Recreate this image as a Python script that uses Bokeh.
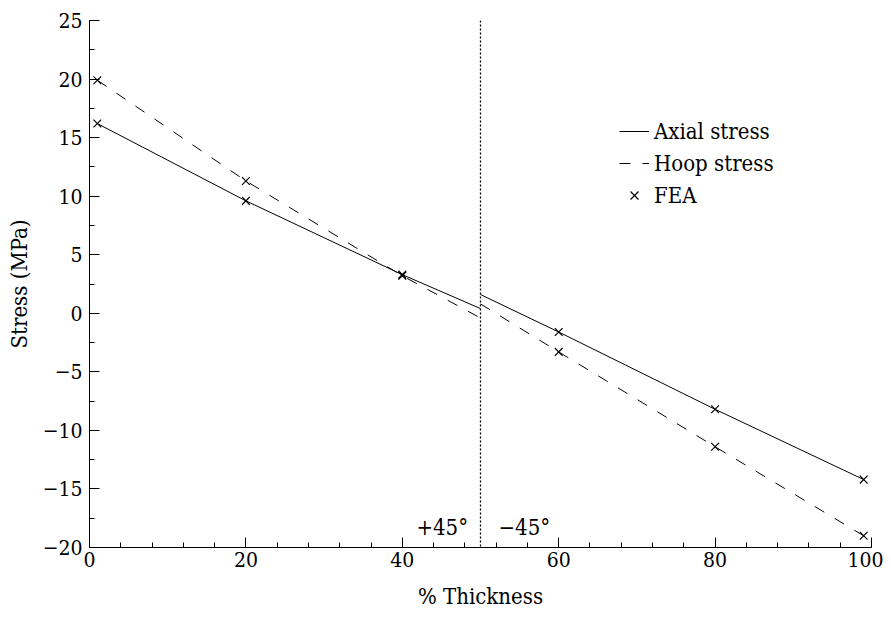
from bokeh.plotting import figure
from bokeh.models import FixedTicker, Range1d, Legend, LegendItem, Span, CustomJSTickFormatter
from bokeh.core.properties import value
from bokeh.embed import file_html
from bokeh.resources import INLINE

# Data
axial_left_x = [1, 20, 40, 50]
axial_left_y = [16.2, 9.6, 3.3, 0.4]
axial_right_x = [50, 60, 80, 99]
axial_right_y = [1.6, -1.6, -8.2, -14.2]
hoop_left_x = [1, 20, 40, 50]
hoop_left_y = [19.9, 11.3, 3.2, -0.4]
hoop_right_x = [50, 60, 80, 99]
hoop_right_y = [0.8, -3.3, -11.4, -19.0]
fea_x = [1, 1, 20, 20, 40, 40, 60, 60, 80, 80, 99, 99]
fea_y = [16.2, 19.9, 9.6, 11.3, 3.3, 3.2, -1.6, -3.3, -8.2, -11.4, -14.2, -19.0]
divider_x = 50
ann_x = [41.8, 52.3]
ann_y = [-18.3, -18.3]
ann_text = ["+45°", "−45°"]
x_ticks = [0, 20, 40, 60, 80, 100]
x_minor = list(range(0, 101, 4))
y_ticks = [-20, -15, -10, -5, 0, 5, 10, 15, 20, 25]
y_minor = [v / 2 for v in range(-40, 51, 5)]

FONT = "DejaVu Serif Condensed"

p = figure(width=883, height=613, output_backend="svg", toolbar_location=None,
           x_range=Range1d(0, 100), y_range=Range1d(-20, 25),
           min_border_left=89, min_border_right=12, min_border_top=20, min_border_bottom=66)
p.outline_line_color = None
p.xgrid.visible = False
p.ygrid.visible = False
p.background_fill_color = "white"

fmt = CustomJSTickFormatter(code="return String(tick).replace('-', '\u2212');")
for ax, ticks, minor in ((p.xaxis[0], x_ticks, x_minor), (p.yaxis[0], y_ticks, y_minor)):
    ax.ticker = FixedTicker(ticks=ticks, minor_ticks=minor)
    ax.formatter = fmt
    ax.major_tick_in = 10
    ax.major_tick_out = 0
    ax.minor_tick_in = 5
    ax.minor_tick_out = 0
    ax.axis_line_color = "black"
    ax.major_tick_line_color = "black"
    ax.minor_tick_line_color = "black"
    ax.major_label_text_font = FONT
    ax.major_label_text_font_size = "21px"
    ax.major_label_text_color = "black"
    ax.axis_label_text_font = FONT
    ax.axis_label_text_font_size = "22px"
    ax.axis_label_text_font_style = "normal"
    ax.axis_label_text_color = "black"

p.xaxis.axis_label = "% Thickness"
p.yaxis.axis_label = "Stress (MPa)"
p.xaxis.major_label_standoff = 4
p.yaxis.major_label_standoff = 7
p.xaxis.axis_label_standoff = 14
p.yaxis.axis_label_standoff = 8

p.add_layout(Span(location=divider_x, dimension="height", line_color="black",
                  line_width=1.3, line_dash="2 2"))

a1 = p.line(axial_left_x, axial_left_y, line_color="black", line_width=1)
p.line(axial_right_x, axial_right_y, line_color="black", line_width=1)
h1 = p.line(hoop_left_x, hoop_left_y, line_color="black", line_width=1, line_dash="11 12")
p.line(hoop_right_x, hoop_right_y, line_color="black", line_width=1, line_dash="11 12")
f = p.scatter(fea_x, fea_y, marker="x", size=11, line_color="black", line_width=1.2)

p.text(x=ann_x, y=ann_y, text=ann_text, text_font=value(FONT), text_font_size="22px",
       text_color="black", text_baseline="alphabetic")

legend = Legend(items=[LegendItem(label="Axial stress", renderers=[a1]),
                       LegendItem(label="Hoop stress", renderers=[h1]),
                       LegendItem(label="FEA", renderers=[f])],
                location=(530, 338), border_line_color=None, background_fill_alpha=0,
                padding=0, margin=0, spacing=4, glyph_width=30, glyph_height=28,
                label_standoff=5, label_text_font=FONT, label_text_font_size="22px",
                label_text_color="black")
p.add_layout(legend)

open("out.html", "w").write(file_html(p, INLINE))
